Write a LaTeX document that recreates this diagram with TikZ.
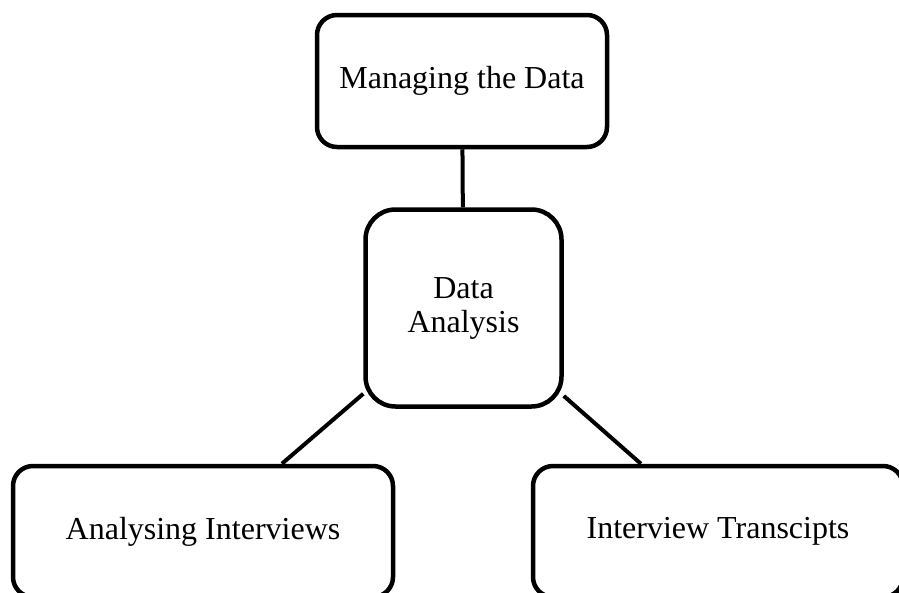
\documentclass[tikz,border=0pt]{standalone}
\usepackage{fontspec}
\setmainfont{Liberation Serif}
\begin{document}
\begin{tikzpicture}[x=1pt, y=-1pt,
  box/.style={draw=black, line width=4.5pt, rounded corners=20pt,
    fill=none, align=center, inner sep=0pt,
    font=\fontsize{32}{34}\selectfont},
  link/.style={draw=black, line width=4pt}]
  \useasboundingbox (0,0) rectangle (899,592);
  \fill[white] (0,0) rectangle (899,592);

  % boxes
  \node[box, minimum width=290pt, minimum height=132pt] (md) at (462,81) {Managing the Data};
  \node[box, rounded corners=30pt, minimum width=196pt, minimum height=197pt] (da) at (463.5,308) {Data\\Analysis};
  \node[box, minimum width=380pt, minimum height=131pt] (ai) at (203,531.5) {Analysing Interviews};
  \node[box, minimum width=370pt, minimum height=131pt] (it) at (718,531.5) {Interview Transcipts};

  % connectors
  \draw[link] (md) -- (da);
  \draw[link] (da) -- (ai);
  \draw[link] (da) -- (it);
\end{tikzpicture}
\end{document}
